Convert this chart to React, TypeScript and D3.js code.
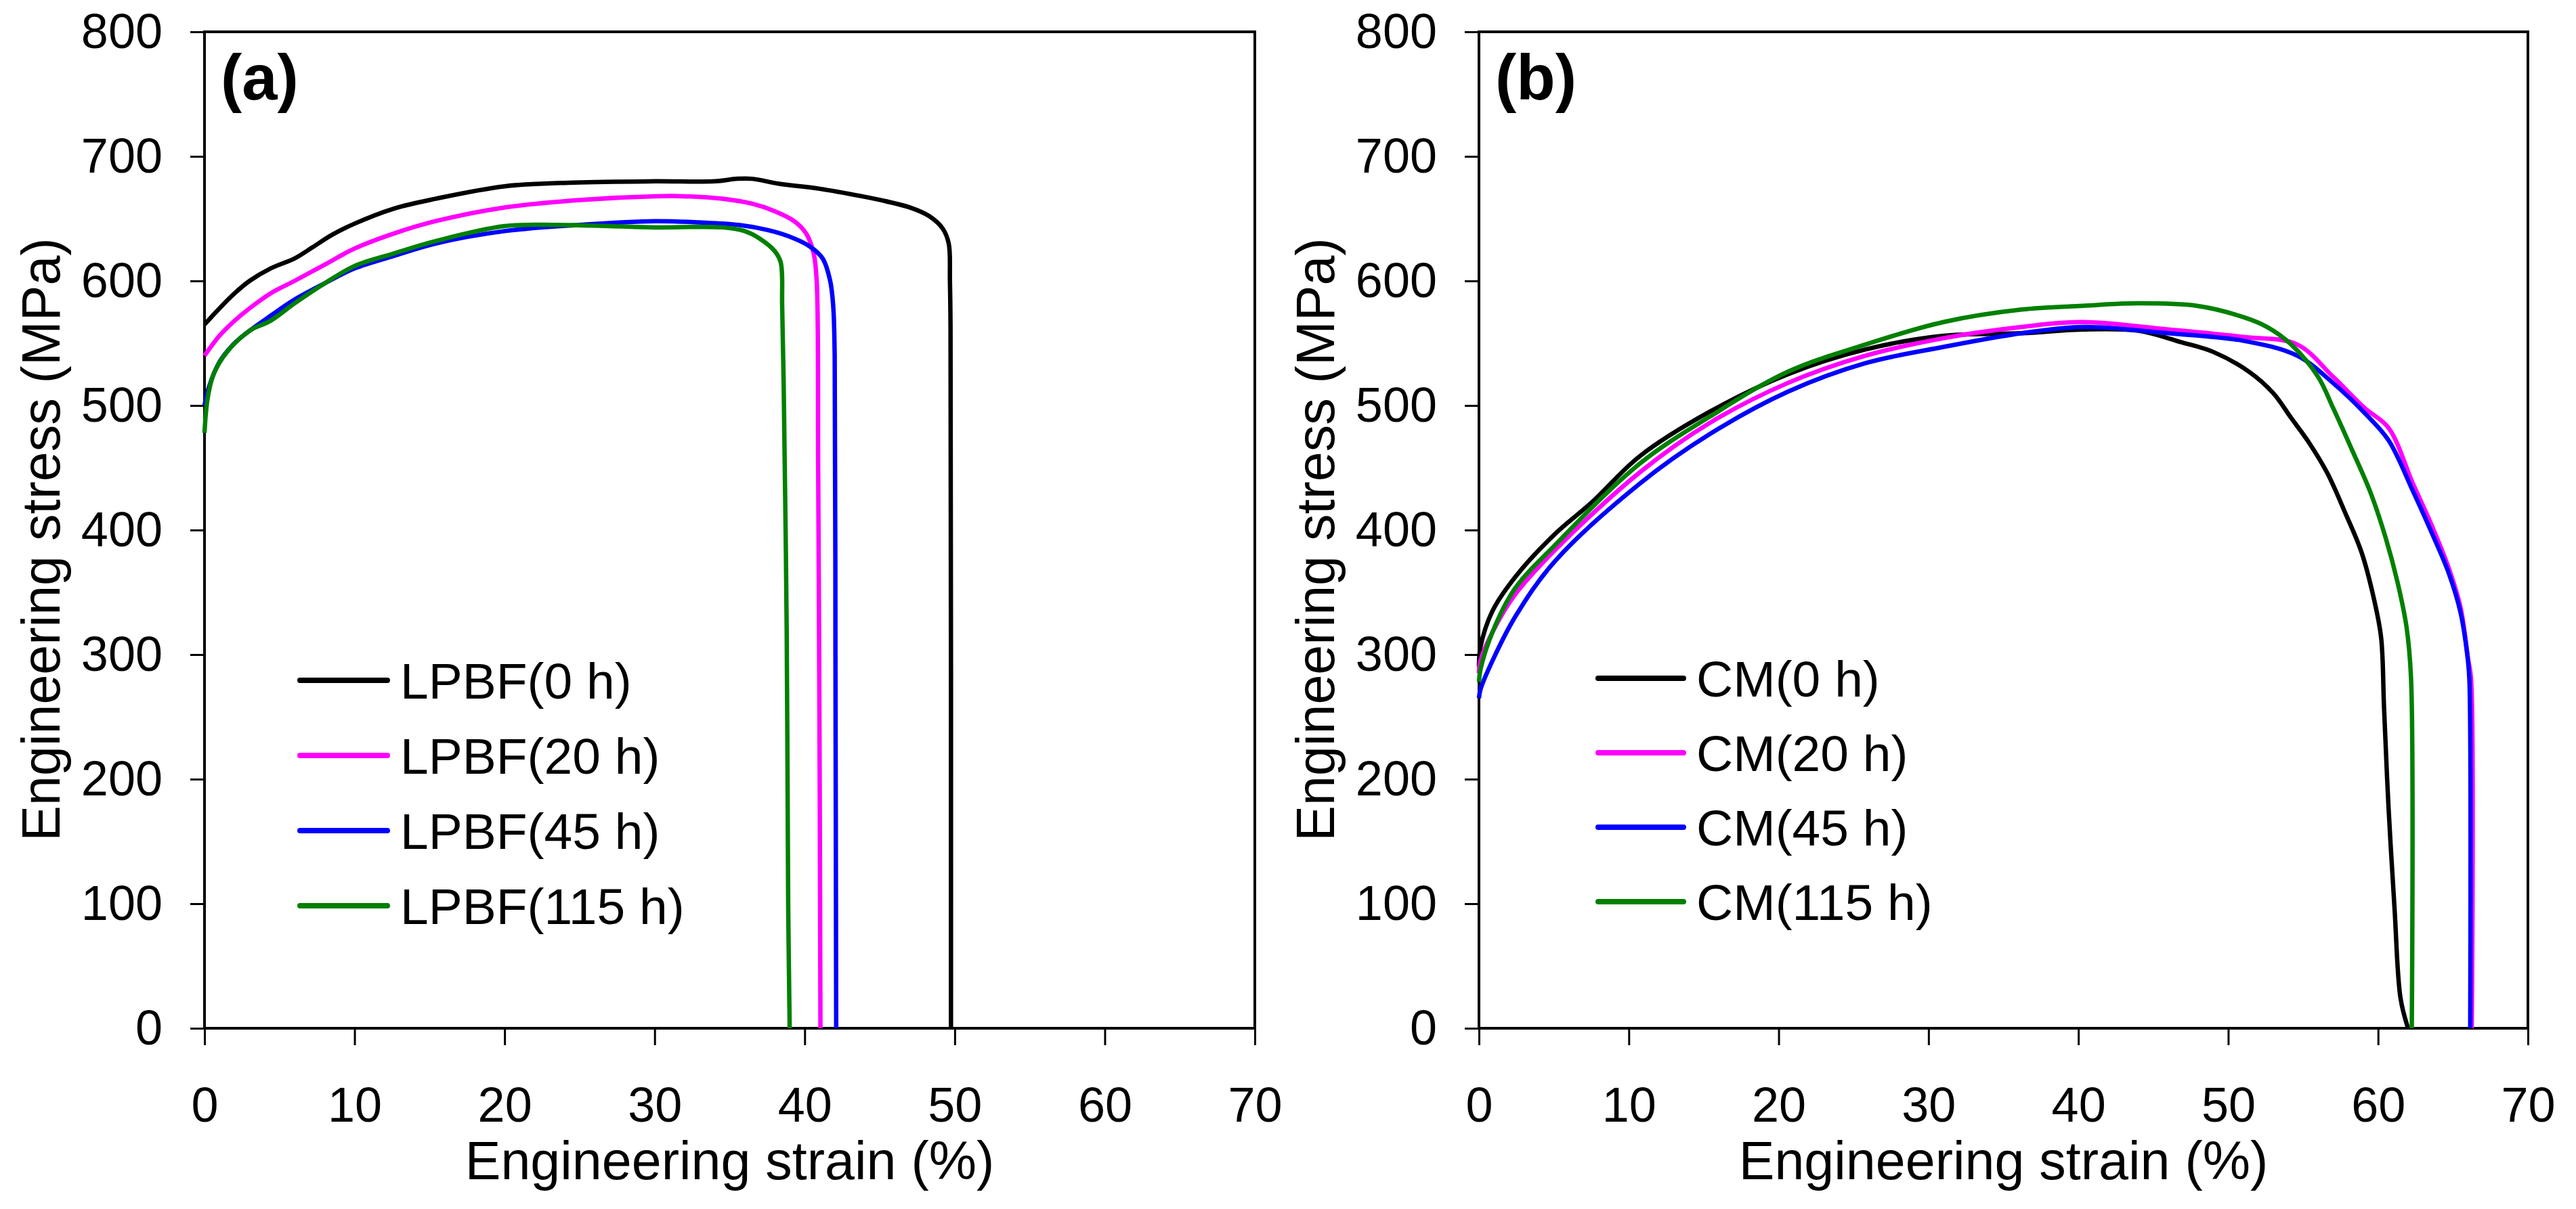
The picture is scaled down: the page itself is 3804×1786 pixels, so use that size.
import { useEffect, useRef } from "react";
import * as d3 from "d3";

const WIDTH = 3804;
const HEIGHT = 1786;
const FONT = "'Liberation Sans', Arial, Helvetica, sans-serif";

// axis ticks
const xTicks = [0, 10, 20, 30, 40, 50, 60, 70];
const yTicks = [0, 100, 200, 300, 400, 500, 600, 700, 800];

const seriesColors = ["#000000", "#ff00ff", "#0000ff", "#008000"];
const lpbfLabels = ["LPBF(0 h)", "LPBF(20 h)", "LPBF(45 h)", "LPBF(115 h)"];
const cmLabels = ["CM(0 h)", "CM(20 h)", "CM(45 h)", "CM(115 h)"];

// (a) LPBF curves, strain (%) / stress (MPa)
const lpbf0Strain = [0, 1, 2, 3, 4.4, 6, 7.2, 8.5, 10, 12.6, 15.4, 20, 24.6, 30, 34, 35.5, 36.5, 38.3, 41, 43.8, 45.4, 47, 48.3, 49.2, 49.6, 49.68, 49.72, 49.75];
const lpbf0Stress = [565, 578, 590, 600, 610, 618, 627, 637, 646, 658, 666, 676, 679, 680, 680, 682, 682, 678, 674, 668, 664, 659, 652, 642, 630, 600, 563, 0];

const lpbf20Strain = [0, 1, 2, 3, 4.4, 6, 8, 10, 12.6, 15.4, 20, 25, 30, 32, 34.5, 36.5, 38, 39.3, 40.1, 40.6, 40.8, 40.9, 41.0, 41.05];
const lpbf20Stress = [540, 556, 568, 578, 590, 600, 613, 626, 638, 648, 659, 665, 668, 668, 666, 662, 656, 648, 638, 622, 600, 450, 200, 0];

const lpbf45Strain = [0, 0.3, 1, 2, 3, 4.4, 6, 8, 10, 12.6, 15.4, 20, 25, 30, 33, 35.6, 37.5, 38.9, 40.3, 41.2, 41.7, 41.9, 42.0, 42.05, 42.1];
const lpbf45Stress = [500, 515, 535, 550, 560, 572, 585, 598, 610, 620, 630, 640, 645, 648, 647, 645, 641, 636, 628, 618, 600, 580, 540, 300, 0];

const lpbf115Strain = [0, 0.2, 0.6, 1.5, 3, 4.4, 6, 8, 10, 12.6, 15.4, 20, 23.4, 27, 30, 34.5, 36, 37, 38, 38.4, 38.5, 38.6, 38.8, 38.9, 39.0];
const lpbf115Stress = [478, 505, 525, 543, 560, 568, 582, 598, 612, 622, 632, 644, 645, 644, 643, 643, 640, 634, 624, 615, 580, 517, 320, 100, 0];

// (b) CM curves
const cm0Strain = [0, 0.1, 0.9, 2.4, 5.0, 7.6, 10.7, 15.4, 20.6, 25.8, 31.0, 36.2, 40.3, 44, 46.8, 49, 51.4, 53, 54.2, 55.4, 56.6, 57.8, 58.9, 59.7, 60.2, 60.4, 60.7, 61.1, 61.5, 62.0];
const cm0Stress = [290, 306, 335, 362, 396, 423, 459, 495, 525, 545, 556, 558, 561, 560, 551, 543, 527, 510, 490, 470, 446, 414, 382, 346, 314, 257, 177, 96, 24, 0];

const cm20Strain = [0, 0.1, 0.9, 2.4, 5.0, 10.7, 15.4, 20.6, 25.8, 31.0, 36.2, 40.3, 46, 51, 54.6, 57, 59.1, 60.7, 62.3, 63.5, 64.7, 65.5, 66.0, 66.2, 66.25];
const cm20Stress = [285, 295, 318, 348, 383, 446, 486, 518, 540, 554, 563, 567, 561, 555, 549, 523, 498, 482, 438, 406, 370, 338, 297, 281, 0];

const cm45Strain = [0, 0.1, 0.9, 2.4, 5.0, 10.7, 15.4, 20.6, 25.8, 31.0, 36.2, 40.3, 46, 51, 54.6, 57, 59.1, 60.7, 62.3, 63.5, 64.7, 65.5, 66.0, 66.1, 66.15];
const cm45Stress = [265, 272, 295, 330, 374, 437, 477, 511, 534, 547, 558, 563, 558, 552, 540, 518, 494, 472, 432, 400, 366, 334, 295, 278, 0];

const cm115Strain = [0, 0.1, 0.9, 2.4, 5.0, 10.7, 15.4, 20.6, 25.8, 31.0, 36.2, 40.3, 44, 47.9, 51, 52.6, 54.2, 56, 57, 58.2, 59.5, 60.5, 61.3, 61.9, 62.2, 62.25];
const cm115Stress = [278, 288, 318, 353, 387, 453, 491, 527, 549, 567, 577, 580, 582, 580, 571, 563, 549, 523, 498, 466, 430, 394, 358, 322, 281, 0];

const panels = [
    {
        tag: "(a)",
        left: 302, right: 1853,
        labels: lpbfLabels,
        legendLine: [141, 270], legendText: 289, legendTop: 1005, legendStep: 111,
        series: [
            [lpbf0Strain, lpbf0Stress],
            [lpbf20Strain, lpbf20Stress],
            [lpbf45Strain, lpbf45Stress],
            [lpbf115Strain, lpbf115Stress],
        ],
    },
    {
        tag: "(b)",
        left: 2184, right: 3733,
        labels: cmLabels,
        legendLine: [176, 302], legendText: 321, legendTop: 1002, legendStep: 110,
        series: [
            [cm0Strain, cm0Stress],
            [cm20Strain, cm20Stress],
            [cm45Strain, cm45Stress],
            [cm115Strain, cm115Stress],
        ],
    },
];

const TOP = 47;
const BOTTOM = 1519;

const App = () => {
    const containerRef: any = useRef<HTMLDivElement>(null);

    useEffect(() => {
        const root = d3.select(containerRef.current);
        root.selectAll("*").remove();

        const svg = root
            .append("svg")
            .attr("width", WIDTH)
            .attr("height", HEIGHT)
            .style("display", "block")
            .style("background", "#ffffff");

        panels.forEach((p) => {
            const x = d3.scaleLinear().domain([0, 70]).range([p.left, p.right]);
            const y = d3.scaleLinear().domain([0, 800]).range([BOTTOM, TOP]);
            const g = svg.append("g");

            // frame
            g.append("rect")
                .attr("x", p.left)
                .attr("y", TOP)
                .attr("width", p.right - p.left)
                .attr("height", BOTTOM - TOP)
                .attr("fill", "none")
                .attr("stroke", "#000")
                .attr("stroke-width", 4);

            // x axis
            g.append("g")
                .attr("transform", `translate(0,${BOTTOM})`)
                .call(d3.axisBottom(x).tickValues(xTicks).tickSize(25).tickSizeOuter(0).tickPadding(62))
                .call((a) => a.select(".domain").remove())
                .attr("font-size", 72)
                .attr("font-family", FONT)
                .call((a) => a.selectAll(".tick line").attr("stroke-width", 3));

            // y axis
            g.append("g")
                .attr("transform", `translate(${p.left},0)`)
                .call(d3.axisLeft(y).tickValues(yTicks).tickSize(21).tickSizeOuter(0).tickPadding(41))
                .call((a) => a.select(".domain").remove())
                .attr("font-size", 72)
                .attr("font-family", FONT)
                .call((a) => a.selectAll(".tick line").attr("stroke-width", 3));

            // curves
            const line = d3
                .line<[number, number]>()
                .x((d) => x(d[0]))
                .y((d) => y(d[1]))
                .curve(d3.curveCatmullRom.alpha(0.5));

            p.series.forEach(([strain, stress], i) => {
                g.append("path")
                    .datum(d3.zip(strain, stress) as [number, number][])
                    .attr("d", line)
                    .attr("fill", "none")
                    .attr("stroke", seriesColors[i])
                    .attr("stroke-width", 6.5)
                    .attr("stroke-linejoin", "round");
            });

            // legend
            p.labels.forEach((label, i) => {
                const ly = p.legendTop + i * p.legendStep;
                g.append("line")
                    .attr("x1", p.left + p.legendLine[0])
                    .attr("x2", p.left + p.legendLine[1])
                    .attr("y1", ly)
                    .attr("y2", ly)
                    .attr("stroke", seriesColors[i])
                    .attr("stroke-width", 8)
                    .attr("stroke-linecap", "round");
                g.append("text")
                    .attr("x", p.left + p.legendText)
                    .attr("y", ly + 27)
                    .attr("font-size", 75)
                    .attr("font-family", FONT)
                    .text(label);
            });

            // panel tag
            g.append("text")
                .attr("x", p.left + 24)
                .attr("y", 147)
                .attr("font-size", 94)
                .attr("font-weight", "bold")
                .attr("font-family", FONT)
                .text(p.tag);

            // axis titles
            g.append("text")
                .attr("x", (p.left + p.right) / 2)
                .attr("y", 1742)
                .attr("text-anchor", "middle")
                .attr("font-size", 79)
                .attr("font-family", FONT)
                .text("Engineering strain (%)");

            g.append("text")
                .attr("transform", `translate(${p.left - 214},${797}) rotate(-90)`)
                .attr("text-anchor", "middle")
                .attr("font-size", 79)
                .attr("font-family", FONT)
                .text("Engineering stress (MPa)");
        });
    }, []);

    return (
        <div
            ref={containerRef}
            style={{ position: "absolute", left: 0, top: 0, width: WIDTH, height: HEIGHT, background: "#fff" }}
        />
    );
};

export default App;
